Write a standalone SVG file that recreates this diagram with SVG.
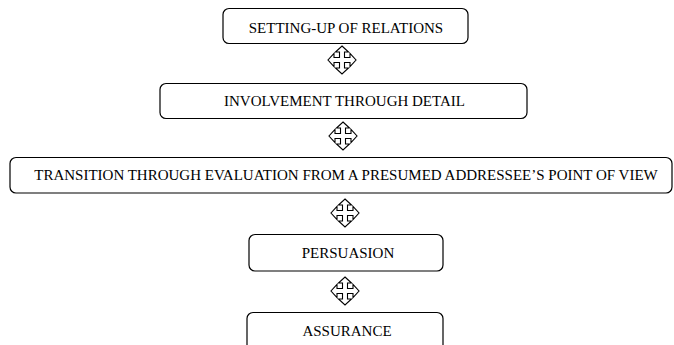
<svg xmlns="http://www.w3.org/2000/svg" width="674" height="345" viewBox="0 0 674 345">
  <style>
    .box { fill: #ffffff; stroke: #000000; stroke-width: 1.2; }
    .label { font-family: "Liberation Serif", "DejaVu Serif", serif; font-size: 15px; fill: #000000; text-anchor: middle; }
    .link { fill: #ffffff; stroke: #000000; stroke-width: 1.1; stroke-linejoin: miter; }
  </style>
  <defs>
    <!-- outlined four-way arrow, centred on the origin -->
    <polygon id="quad" class="link" points="0,-14 6.5,-8 2.5,-8 2.5,-2.5 8,-2.5 8,-6.5 14,0 8,6.5 8,2.5 2.5,2.5 2.5,8 6.5,8 0,14 -6.5,8 -2.5,8 -2.5,2.5 -8,2.5 -8,6.5 -14,0 -8,-6.5 -8,-2.5 -2.5,-2.5 -2.5,-8 -6.5,-8"/>
  </defs>
  <rect width="674" height="345" fill="#ffffff"/>

  <g id="relations">
    <rect class="box" x="223" y="8.5" width="245" height="35" rx="6"/>
    <text class="label" x="346" y="33">SETTING-UP OF RELATIONS</text>
  </g>

  <g id="involvement">
    <rect class="box" x="160" y="83.5" width="367" height="35" rx="6"/>
    <text class="label" x="344.5" y="106">INVOLVEMENT THROUGH DETAIL</text>
  </g>

  <g id="transition">
    <rect class="box" x="10" y="157.5" width="662" height="35.5" rx="6"/>
    <text class="label" x="346" y="180">TRANSITION THROUGH EVALUATION FROM A PRESUMED ADDRESSEE’S POINT OF VIEW</text>
  </g>

  <g id="persuasion">
    <rect class="box" x="249" y="234.5" width="194" height="36.5" rx="6"/>
    <text class="label" x="348" y="258">PERSUASION</text>
  </g>

  <g id="assurance">
    <rect class="box" x="247" y="312.5" width="196" height="40" rx="6"/>
    <text class="label" x="347" y="336">ASSURANCE</text>
  </g>

  <g id="connectors">
    <use href="#quad" x="342" y="60"/>
    <use href="#quad" x="343" y="136"/>
    <use href="#quad" x="345" y="213"/>
    <use href="#quad" x="345" y="291"/>
  </g>
</svg>
